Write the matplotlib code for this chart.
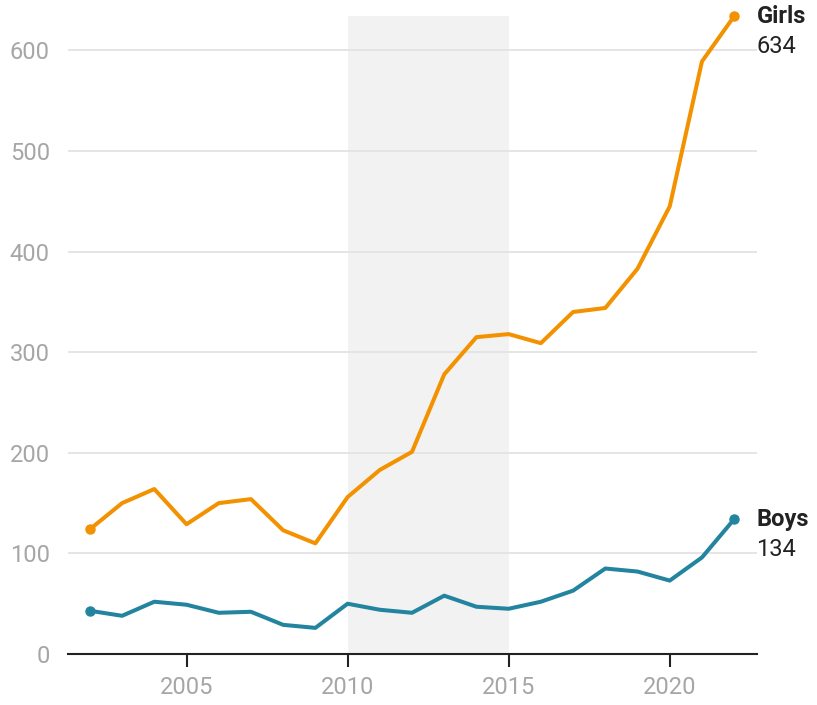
import matplotlib.pyplot as plt
import numpy as np

plt.rcParams['font.family'] = ['Roboto', 'DejaVu Sans']

# data
years = np.arange(2002, 2023)
girls = [124, 150, 164, 129, 150, 154, 123, 110, 156, 183, 201,
         278, 315, 318, 309, 340, 344, 383, 445, 589, 634]
boys = [43, 38, 52, 49, 41, 42, 29, 26, 50, 44, 41,
        58, 47, 45, 52, 63, 85, 82, 73, 96, 134]
yticks = [0, 100, 200, 300, 400, 500, 600]
xticks = [2005, 2010, 2015, 2020]
shade = (2010, 2015)

orange = '#f39200'
teal = '#23849f'
grey = '#a6a6a6'

fig = plt.figure(figsize=(8.17, 7.05), dpi=100)
ax = fig.add_axes([0.0832, 0.0723, 0.8434, 0.9047])

ax.axvspan(shade[0], shade[1], color='#f2f2f2', lw=0, zorder=0)
for y in yticks[1:]:
    ax.axhline(y, color='#e3e3e3', lw=1.3, zorder=1)

ax.plot(years, girls, color=orange, lw=2.9, zorder=3)
ax.plot(years, boys, color=teal, lw=2.9, zorder=3)
for vals, c in [(girls, orange), (boys, teal)]:
    ax.plot([years[0], years[-1]], [vals[0], vals[-1]], 'o', color=c, ms=6.5,
            zorder=4, clip_on=False)

ax.set_xlim(2001.32, 2022.71)
ax.set_ylim(0, 634)

for s in ['top', 'right', 'left']:
    ax.spines[s].set_visible(False)
ax.spines['bottom'].set_color('#222222')
ax.spines['bottom'].set_linewidth(1.5)

ax.set_yticks(yticks)
ax.set_xticks(xticks)
ax.tick_params(axis='y', length=0, pad=13, labelsize=17, labelcolor=grey)
ax.tick_params(axis='x', length=9, width=1.5, color='#222222', pad=7,
               labelsize=17, labelcolor=grey)

for name, vals in [('Girls', girls), ('Boys', boys)]:
    ax.annotate(name, (years[-1], vals[-1]), xytext=(16, 0), textcoords='offset points',
                ha='left', va='center', fontsize=17, fontweight='bold', color='#222222',
                annotation_clip=False)
    ax.annotate(str(vals[-1]), (years[-1], vals[-1]), xytext=(16, -22),
                textcoords='offset points', ha='left', va='center', fontsize=17,
                color='#222222', annotation_clip=False)

fig.savefig('out.png', dpi=100)
